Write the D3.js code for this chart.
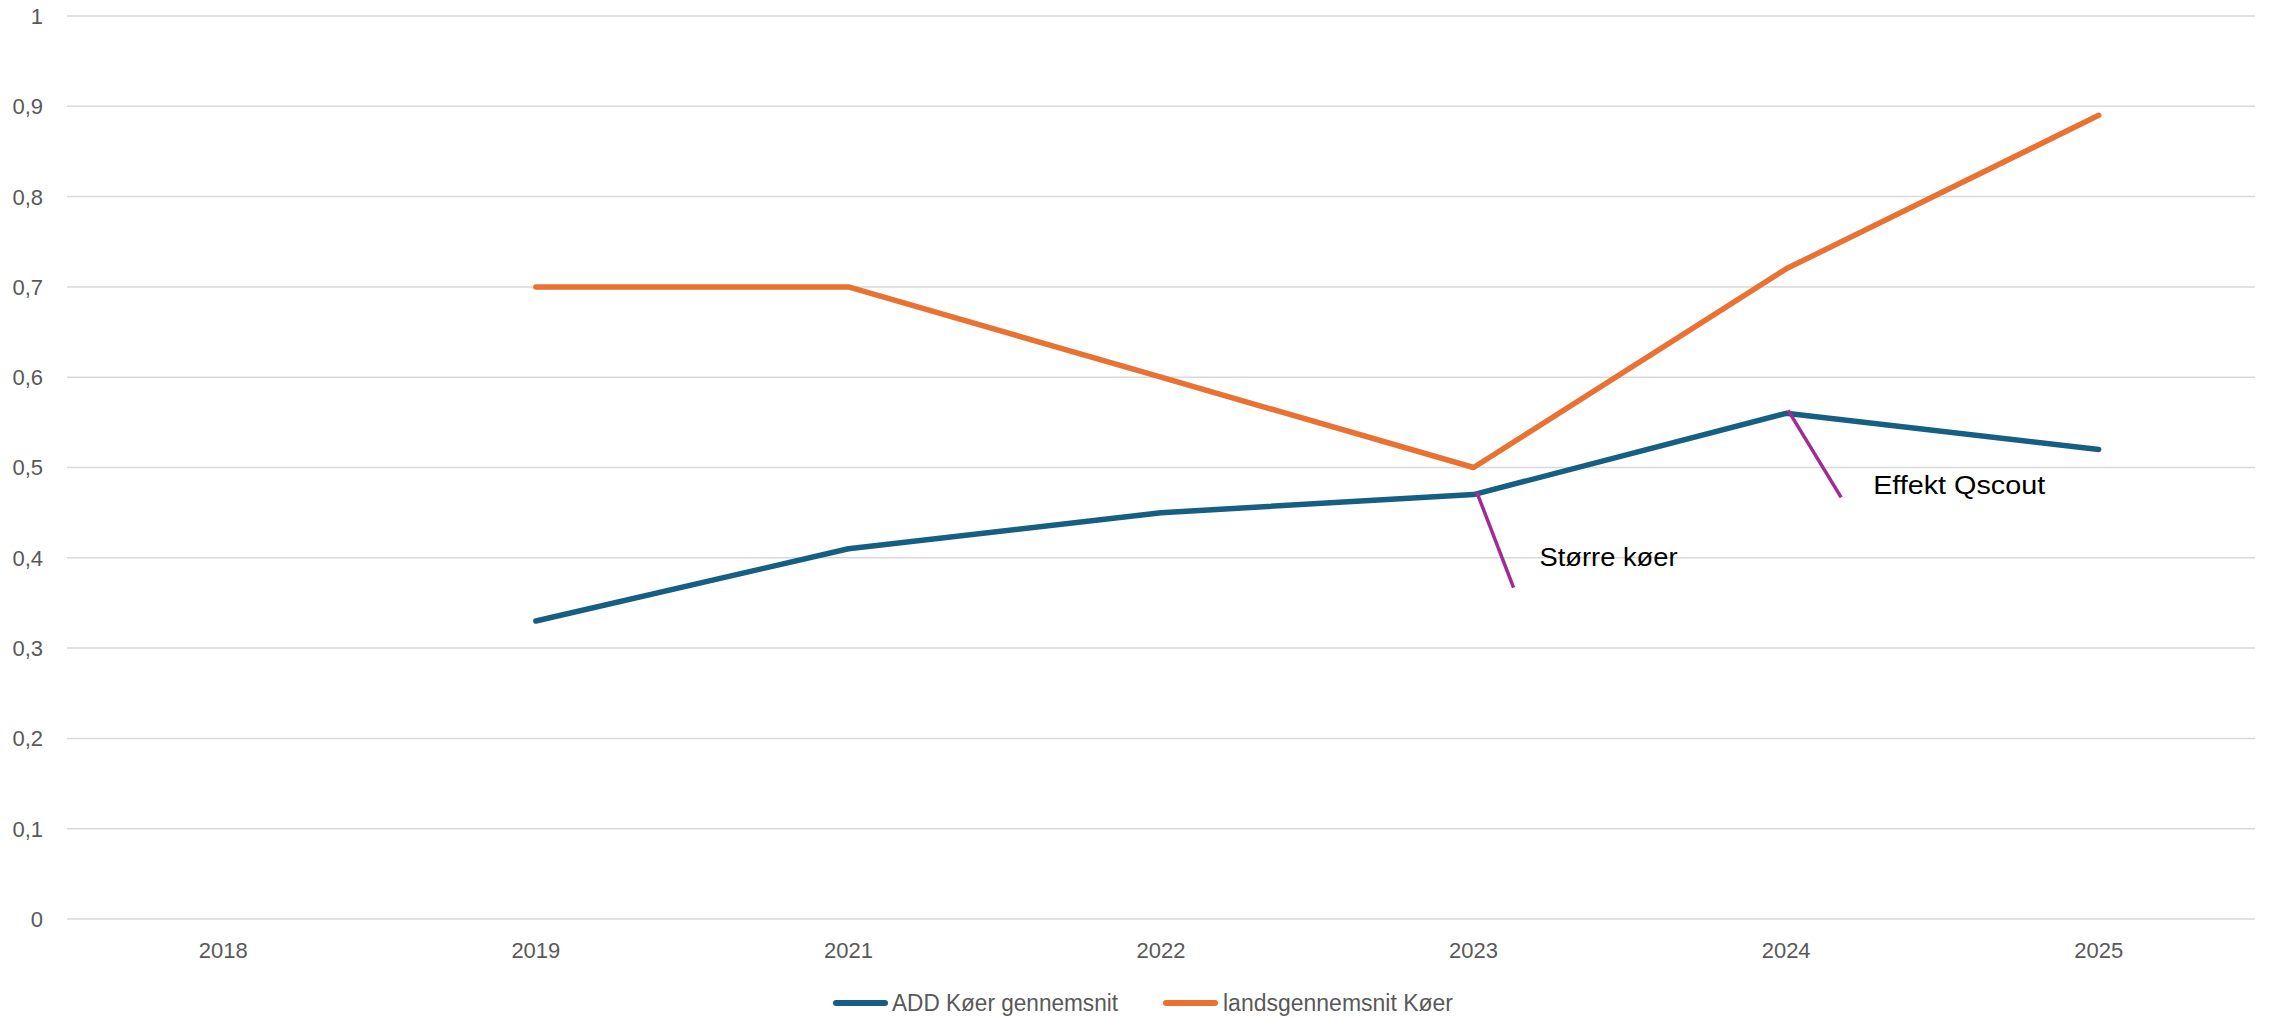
<!DOCTYPE html>
<html><head><meta charset="utf-8">
<script src="https://cdn.jsdelivr.net/npm/d3@7"></script>
<style>body{margin:0;background:#fff;} svg{display:block;}</style>
</head><body>
<svg id="c" width="2274" height="1018"></svg>
<script>
const categories = ["2018","2019","2021","2022","2023","2024","2025"];
const addValues = [null,0.33,0.41,0.45,0.47,0.56,0.52];
const landsValues = [null,0.70,0.70,0.60,0.50,0.72,0.89];
const yTicks = [0,0.1,0.2,0.3,0.4,0.5,0.6,0.7,0.8,0.9,1];
const seriesNames = ["ADD Køer gennemsnit","landsgennemsnit Køer"];
const annotationCats = ["2023","2024"];
const annotationTexts = ["Større køer","Effekt Qscout"];

const colors = ["#156082","#E97132"];
const svg = d3.select("#c");
const L=67, R=2255, T=16, B=919;
const x = d3.scaleBand().domain(categories).range([L,R]);
const y = d3.scaleLinear().domain([0,1]).range([B,T]);
const cx = c => x(c)+x.bandwidth()/2;

// gridlines
svg.append("g").selectAll("line").data(yTicks).join("line")
  .attr("x1",L).attr("x2",R).attr("y1",d=>y(d)).attr("y2",d=>y(d))
  .attr("stroke","#d9d9d9").attr("stroke-width",1.5);

// y labels
const fmt = d => d3.format(".1~f")(d).replace(".",",");
svg.append("g").selectAll("text").data(yTicks).join("text")
  .attr("x",43).attr("y",d=>y(d)).attr("dy","0.36em").attr("text-anchor","end")
  .attr("font-family","Liberation Sans, Arial, sans-serif").attr("font-size",22).attr("fill","#595959")
  .text(fmt);

// x labels
svg.append("g").selectAll("text").data(categories).join("text")
  .attr("x",d=>cx(d)).attr("y",B+31).attr("dy","0.36em").attr("text-anchor","middle")
  .attr("font-family","Liberation Sans, Arial, sans-serif").attr("font-size",22).attr("fill","#595959")
  .text(d=>d);

const line = d3.line().defined(d=>d.v!=null).x(d=>cx(d.c)).y(d=>y(d.v));
[addValues,landsValues].forEach((vals,i)=>{
  svg.append("path").datum(categories.map((c,j)=>({c,v:vals[j]})))
    .attr("d",line).attr("fill","none").attr("stroke",colors[i]).attr("stroke-width",5.5)
    .attr("stroke-linecap","round").attr("stroke-linejoin","round");
});

// annotations (leader lines start at the blue series points)
const annoStyle = [
  {ox:3, dx:40, dy:93, tx:66, ty:71, w:138},
  {ox:2, dx:55, dy:84, tx:87, ty:81, w:172}
];
annotationCats.forEach((c,k)=>{
  const j=categories.indexOf(c);
  const px=cx(c), py=y(addValues[j]); const s=annoStyle[k];
  svg.append("line").attr("x1",px+s.ox).attr("y1",py-3).attr("x2",px+s.dx).attr("y2",py+s.dy)
    .attr("stroke","#A02B93").attr("stroke-width",3.5);
  svg.append("text").attr("x",px+s.tx).attr("y",py+s.ty)
    .attr("font-family","Liberation Sans, Arial, sans-serif").attr("font-size",26).attr("fill","#000")
    .attr("textLength",s.w).attr("lengthAdjust","spacingAndGlyphs")
    .text(annotationTexts[k]);
});

// legend
const leg=[{x1:833,x2:888,tx:892,w:226,i:0},{x1:1163,x2:1218,tx:1223,w:230,i:1}];
leg.forEach(l=>{
  svg.append("line").attr("x1",l.x1+3).attr("x2",l.x2-3).attr("y1",1003).attr("y2",1003)
    .attr("stroke",colors[l.i]).attr("stroke-width",6).attr("stroke-linecap","round");
  svg.append("text").attr("x",l.tx).attr("y",1003).attr("dy","0.36em")
    .attr("font-family","Liberation Sans, Arial, sans-serif").attr("font-size",23).attr("fill","#595959")
    .attr("textLength",l.w).attr("lengthAdjust","spacingAndGlyphs")
    .text(seriesNames[l.i]);
});
</script>
</body></html>
